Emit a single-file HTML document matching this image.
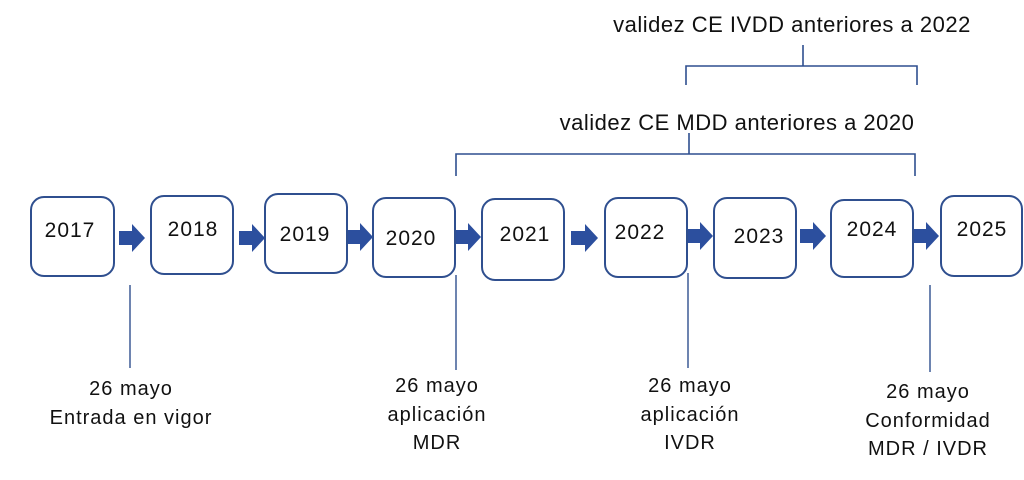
<!DOCTYPE html>
<html><head><meta charset="utf-8"><style>
html,body{margin:0;padding:0;background:#fff;}
svg{display:block;}
text{font-family:"Liberation Sans",sans-serif;font-size:20px;fill:#111;letter-spacing:1px;}
.y{font-size:21px;letter-spacing:1px;}
.t{font-size:22px;letter-spacing:0.5px;}
</style></head><body>
<svg width="1024" height="480" viewBox="0 0 1024 480" xmlns="http://www.w3.org/2000/svg">
<g fill="none" stroke="#2f4f8f" stroke-width="2">
<rect x="31" y="197" width="83" height="79" rx="13"/>
<rect x="151" y="196" width="82" height="78" rx="13"/>
<rect x="265" y="194" width="82" height="79" rx="13"/>
<rect x="373" y="198" width="82" height="79" rx="13"/>
<rect x="482" y="199" width="82" height="81" rx="13"/>
<rect x="605" y="198" width="82" height="79" rx="13"/>
<rect x="714" y="198" width="82" height="80" rx="13"/>
<rect x="831" y="200" width="82" height="77" rx="13"/>
<rect x="941" y="196" width="81" height="80" rx="13"/>
</g>
<g fill="#2c4f9e">
<path d="M119,231 h13 v-7 l13,14 l-13,14 v-7 h-13z"/>
<path d="M239,231 h13 v-7 l13,14 l-13,14 v-7 h-13z"/>
<path d="M348,230 h12 v-7 l13,14 l-13,14 v-7 h-12z"/>
<path d="M456,230 h12 v-7 l13,14 l-13,14 v-7 h-12z"/>
<path d="M571,231 h14 v-7 l13,14 l-13,14 v-7 h-14z"/>
<path d="M688,229 h12 v-7 l13,14 l-13,14 v-7 h-12z"/>
<path d="M800,229 h13 v-7 l13,14 l-13,14 v-7 h-13z"/>
<path d="M914,229 h12 v-7 l13,14 l-13,14 v-7 h-12z"/>
</g>
<g text-anchor="middle">
<text class="y" x="70" y="237">2017</text>
<text class="y" x="193" y="236">2018</text>
<text class="y" x="305" y="241">2019</text>
<text class="y" x="411" y="245">2020</text>
<text class="y" x="525" y="241">2021</text>
<text class="y" x="640" y="239">2022</text>
<text class="y" x="759" y="243">2023</text>
<text class="y" x="872" y="236">2024</text>
<text class="y" x="982" y="236">2025</text>
</g>
<g fill="none" stroke="#2f4f8f" stroke-width="1.6">
<path d="M686,85 V66 H917 V85 M803,66 V45"/>
<path d="M456,176 V154 H915 V176 M689,154 V133"/>
</g>
<g stroke="#2f4f8f" stroke-width="1.4">
<line x1="130" y1="285" x2="130" y2="368"/>
<line x1="456" y1="275" x2="456" y2="370"/>
<line x1="688" y1="273" x2="688" y2="368"/>
<line x1="930" y1="285" x2="930" y2="372"/>
</g>
<g text-anchor="middle">
<text class="t" x="792" y="32">validez CE IVDD anteriores a 2022</text>
<text class="t" x="737" y="130">validez CE MDD anteriores a 2020</text>
<text x="131" y="395">26 mayo</text>
<text x="131" y="424">Entrada en vigor</text>
<text x="437" y="392">26 mayo</text>
<text x="437" y="421">aplicación</text>
<text x="437" y="449">MDR</text>
<text x="690" y="392">26 mayo</text>
<text x="690" y="421">aplicación</text>
<text x="690" y="449">IVDR</text>
<text x="928" y="398">26 mayo</text>
<text x="928" y="427">Conformidad</text>
<text x="928" y="455">MDR / IVDR</text>
</g>
</svg>
</body></html>
